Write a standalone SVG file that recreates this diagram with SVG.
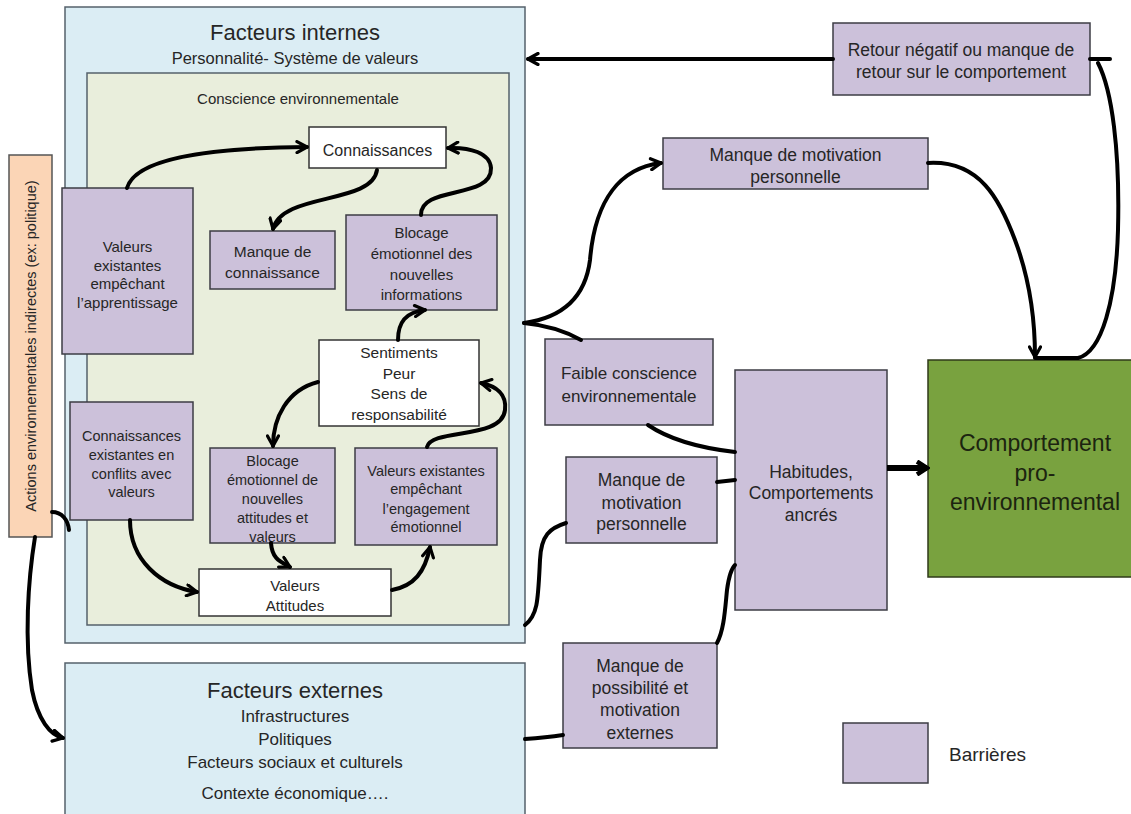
<svg xmlns="http://www.w3.org/2000/svg" width="1131" height="814" viewBox="0 0 1131 814">
<defs>
<style>
text{font-family:"Liberation Sans",Arial,sans-serif;fill:#262626;text-anchor:middle}
.panel{fill:#dbedf4;stroke:#55616b;stroke-width:1.5}
.inner{fill:#e9eedc;stroke:#55616b;stroke-width:1.5}
.bar{fill:#ccc1da;stroke:#3c3c44;stroke-width:1.5}
.wht{fill:#ffffff;stroke:#333;stroke-width:1.5}
.t15{font-size:15px}
.t17{font-size:17.5px}
.ttl{font-size:22px}
.con{fill:none;stroke:#000;stroke-width:4;stroke-linecap:round}
</style>
<marker id="ah" viewBox="0 0 14 14" refX="12" refY="7" markerWidth="14" markerHeight="14" markerUnits="userSpaceOnUse" orient="auto">
<path d="M2,1.5 L12,7 L2,12.5" fill="none" stroke="#000" stroke-width="3.2" stroke-linecap="round" stroke-linejoin="round"/>
</marker>
<marker id="ahb" viewBox="0 0 16 16" refX="13" refY="8" markerWidth="16" markerHeight="16" markerUnits="userSpaceOnUse" orient="auto">
<path d="M3,1.5 L13,8 L3,14.5" fill="none" stroke="#000" stroke-width="4.5" stroke-linejoin="miter"/>
</marker>
</defs>

<g id="facteurs-internes">
<rect class="panel" x="65" y="7" width="460" height="636"/>
<text class="ttl" x="295" y="40">Facteurs internes</text>
<text x="295" y="64" style="font-size:16.5px">Personnalité- Système de valeurs</text>
</g>
<g id="conscience">
<rect class="inner" x="87" y="73" width="422" height="552"/>
<text class="t15" x="298" y="104">Conscience environnementale</text>
</g>
<g id="facteurs-externes">
<rect class="panel" x="65" y="663" width="460" height="160"/>
<text class="ttl" x="295" y="698">Facteurs externes</text>
<text class="t17" x="295" y="722" style="font-size:17px">Infrastructures</text>
<text class="t17" x="295" y="745" style="font-size:17px">Politiques</text>
<text class="t17" x="295" y="768" style="font-size:17px">Facteurs sociaux et culturels</text>
<text class="t17" x="295" y="799" style="font-size:17px">Contexte économique….</text>
</g>
<g id="actions">
<rect x="9" y="155" width="43" height="382" fill="#fbd5b6" stroke="#555" stroke-width="1.5"/>
<text x="35.5" y="346" transform="rotate(-90 35.5 346)" style="font-size:14.5px">Actions environnementales indirectes (ex: politique)</text>
</g>
<g id="connaissances">
<rect class="wht" x="309" y="127" width="137" height="41"/>
<text class="t15" x="377.5" y="156" style="font-size:16px">Connaissances</text>
</g>
<g id="manque-connaissance">
<rect class="bar" x="210" y="231" width="125" height="58"/>
<text class="t15" x="272.5" y="257" style="font-size:15.5px">Manque de</text>
<text class="t15" x="272.5" y="278" style="font-size:15.5px">connaissance</text>
</g>
<g id="blocage-info">
<rect class="bar" x="346" y="215" width="151" height="95"/>
<text class="t15" x="421.5" y="238">Blocage</text>
<text class="t15" x="421.5" y="259">émotionnel des</text>
<text class="t15" x="421.5" y="280">nouvelles</text>
<text class="t15" x="421.5" y="300">informations</text>
</g>
<g id="valeurs-apprentissage">
<rect class="bar" x="62" y="188" width="131" height="166"/>
<text class="t15" x="127.5" y="252">Valeurs</text>
<text class="t15" x="127.5" y="271">existantes</text>
<text class="t15" x="127.5" y="289">empêchant</text>
<text class="t15" x="127.5" y="308">l’apprentissage</text>
</g>
<g id="sentiments">
<rect class="wht" x="319" y="340" width="160" height="86"/>
<text class="t15" x="399" y="358" style="font-size:15.5px">Sentiments</text>
<text class="t15" x="399" y="379" style="font-size:15.5px">Peur</text>
<text class="t15" x="399" y="399" style="font-size:15.5px">Sens de</text>
<text class="t15" x="399" y="420" style="font-size:15.5px">responsabilité</text>
</g>
<g id="connaissances-conflits">
<rect class="bar" x="70" y="402" width="123" height="118"/>
<text class="t15" x="131.5" y="441" style="font-size:14.5px">Connaissances</text>
<text class="t15" x="131.5" y="460" style="font-size:14.5px">existantes en</text>
<text class="t15" x="131.5" y="479" style="font-size:14.5px">conflits avec</text>
<text class="t15" x="131.5" y="497" style="font-size:14.5px">valeurs</text>
</g>
<g id="blocage-attitudes">
<rect class="bar" x="210" y="448" width="125" height="95"/>
<text class="t15" x="272.5" y="466" style="font-size:14.5px">Blocage</text>
<text class="t15" x="272.5" y="485" style="font-size:14.5px">émotionnel de</text>
<text class="t15" x="272.5" y="504" style="font-size:14.5px">nouvelles</text>
<text class="t15" x="272.5" y="523" style="font-size:14.5px">attitudes et</text>
<text class="t15" x="272.5" y="542" style="font-size:14.5px">valeurs</text>
</g>
<g id="valeurs-engagement">
<rect class="bar" x="355" y="448" width="142" height="97"/>
<text class="t15" x="426" y="476" style="font-size:14.5px">Valeurs existantes</text>
<text class="t15" x="426" y="494" style="font-size:14.5px">empêchant</text>
<text class="t15" x="426" y="514" style="font-size:14.5px">l’engagement</text>
<text class="t15" x="426" y="532" style="font-size:14.5px">émotionnel</text>
</g>
<g id="valeurs-attitudes">
<rect class="wht" x="199" y="569" width="192" height="47"/>
<text class="t15" x="295" y="591">Valeurs</text>
<text class="t15" x="295" y="611">Attitudes</text>
</g>
<g id="retour">
<rect class="bar" x="833" y="23" width="257" height="72"/>
<text class="t17" x="961" y="56">Retour négatif ou manque de</text>
<text class="t17" x="961" y="78">retour sur le comportement</text>
</g>
<g id="manque-motivation-1">
<rect class="bar" x="663" y="138" width="265" height="51"/>
<text class="t17" x="795.5" y="161">Manque de motivation</text>
<text class="t17" x="795.5" y="183">personnelle</text>
</g>
<g id="faible-conscience">
<rect class="bar" x="545" y="339" width="168" height="86"/>
<text class="t17" x="629" y="379" style="font-size:17px">Faible conscience</text>
<text class="t17" x="629" y="402" style="font-size:17px">environnementale</text>
</g>
<g id="manque-motivation-2">
<rect class="bar" x="566" y="457" width="151" height="86"/>
<text class="t17" x="641.5" y="486">Manque de</text>
<text class="t17" x="641.5" y="509">motivation</text>
<text class="t17" x="641.5" y="530">personnelle</text>
</g>
<g id="habitudes">
<rect class="bar" x="735" y="370" width="152" height="240"/>
<text class="t17" x="811" y="478">Habitudes,</text>
<text class="t17" x="811" y="499">Comportements</text>
<text class="t17" x="811" y="521">ancrés</text>
</g>
<g id="manque-possibilite">
<rect class="bar" x="563" y="643" width="154" height="105"/>
<text class="t17" x="640" y="672">Manque de</text>
<text class="t17" x="640" y="694">possibilité et</text>
<text class="t17" x="640" y="716">motivation</text>
<text class="t17" x="640" y="739">externes</text>
</g>
<g id="comportement">
<rect x="928" y="360" width="212" height="217" fill="#79a23f" stroke="#2f3a1a" stroke-width="1.5"/>
<text x="1035" y="451" style="font-size:23px;fill:#1c2410">Comportement</text>
<text x="1035" y="481" style="font-size:23px;fill:#1c2410">pro-</text>
<text x="1035" y="510" style="font-size:23px;fill:#1c2410">environnemental</text>
</g>
<g id="legende">
<rect class="bar" x="843" y="723" width="85" height="60"/>
<text x="949" y="761" style="font-size:19px;text-anchor:start">Barrières</text>
</g>

<g id="connecteurs">
<path class="con" d="M127,188 C135,160 200,148 307,147" marker-end="url(#ah)"/>
<path class="con" d="M377,170 C372,205 282,192 273,229" marker-end="url(#ah)"/>
<path class="con" d="M421,215 C420,185 492,200 491,168 C490,153 470,147 448,148" marker-end="url(#ah)"/>
<path class="con" d="M398,340 C398,322 406,312 425,310" marker-end="url(#ah)"/>
<path class="con" d="M318,382 C287,390 273,418 273,446" marker-end="url(#ah)"/>
<path class="con" d="M427,447 C432,428 502,440 505,410 C507,394 496,386 481,383" marker-end="url(#ah)"/>
<path class="con" d="M271,543 C272,558 279,561 290,567" marker-end="url(#ah)"/>
<path class="con" d="M130,520 C130,560 160,586 197,592" marker-end="url(#ah)"/>
<path class="con" d="M392,590 C414,586 425,572 430,547" marker-end="url(#ah)"/>
<path class="con" d="M833,59 L528,59" marker-end="url(#ah)"/>
<path class="con" d="M524,323 C560,318 585,300 590,260 C595,200 620,168 661,163" marker-end="url(#ah)"/>
<path class="con" d="M524,323 C545,325 565,331 581,340"/>
<path class="con" d="M648,425 C670,440 700,448 735,452"/>
<path class="con" d="M717,482 L735,480"/>
<path class="con" d="M525,625 C538,615 538,600 540,560 C541,535 550,528 566,523"/>
<path class="con" d="M717,643 C724,630 725,610 727,590 C729,575 732,568 735,565"/>
<path class="con" d="M525,739 C540,738 550,737 563,735"/>
<path fill="none" stroke="#000" stroke-width="6" d="M887,468 L927,468" marker-end="url(#ahb)"/>
<path class="con" d="M928,163 C980,160 1000,200 1015,240 C1030,280 1035,320 1035,357" marker-end="url(#ah)"/>
<path class="con" d="M1035,358 L1078,358 C1102,352 1116,300 1118,230 C1120,150 1112,90 1098,63"/>
<path class="con" d="M1090,59 L1110,59"/>
<path class="con" d="M52,512 C62,512 68,520 69,530"/>
<path class="con" d="M35,537 C28,580 24,640 32,690 C38,720 50,735 63,738" marker-end="url(#ah)"/>
</g>
</svg>
